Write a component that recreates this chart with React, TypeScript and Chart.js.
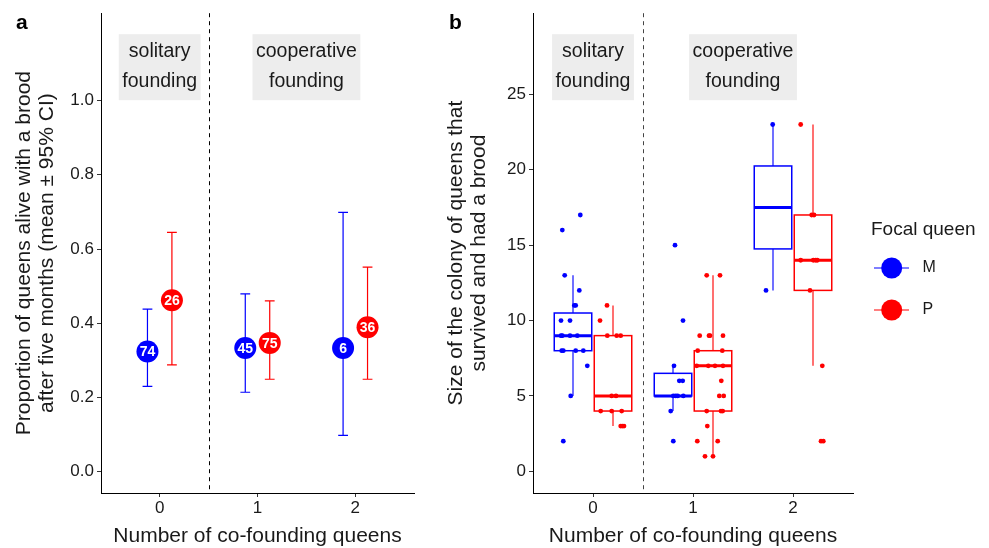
import React, { useEffect, useRef } from "react";
import { Chart, registerables } from "chart.js";
Chart.register(...registerables);

const FONT = "'Liberation Sans', Arial, Helvetica, sans-serif";
const BLUE = "#0000FF";
const RED = "#FF0000";
const TEXT = "#1a1a1a";

// ---- categories / labels ----
const groupValues = [0, 1, 2];
const xTickLabels = ["0", "1", "2"];
const queenLabels = ["M", "P"];
const legendTitle = "Focal queen";
const xTitle = "Number of co-founding queens";
const yTitleA = ["Proportion of queens alive with a brood", "after five months (mean \u00b1 95% CI)"];
const yTitleB = ["Size of the colony of queens that", "survived and had a brood"];
const annotationLines = [["solitary", "founding"], ["cooperative", "founding"]];
const annotationX = [0, 1.5];
const annotationYA = 1.09;
const annotationYB = 26.8;
const separatorX = 0.5;
const yTicksA = [0, 0.2, 0.4, 0.6, 0.8, 1.0];
const yTicksB = [0, 5, 10, 15, 20, 25];

// ---- panel a: proportion (mean, 95% CI, n) ----
const meanM = [0.324, 0.333, 0.333];
const lowM = [0.23, 0.214, 0.098];
const highM = [0.438, 0.479, 0.699];
const nM = [74, 45, 6];
const meanP = [0.462, 0.347, 0.389];
const lowP = [0.288, 0.249, 0.249];
const highP = [0.645, 0.46, 0.551];
const nP = [26, 75, 36];

// ---- panel b: box statistics ----
const medianM = [9, 5, 17.5];
const q1M = [8, 5, 14.75];
const q3M = [10.5, 6.5, 20.25];
const whiskLoM = [5, 4, 12];
const whiskHiM = [13, 7, 23];
const medianP = [5, 7, 14];
const q1P = [4, 4, 12];
const q3P = [9, 8, 17];
const whiskLoP = [3, 1, 7];
const whiskHiP = [11, 13, 23];

// ---- panel b: jittered observations ----
const sizeXM = [
  -0.307, -0.127, -0.283, -0.137, -0.187, -0.173, -0.32, -0.23, -0.32, -0.307, -0.23, -0.157, -0.313, -0.297, -0.173, -0.097, -0.057, -0.223, -0.297,
  0.82, 0.9, 0.81, 0.863, 0.897, 0.803, 0.827, 0.847, 0.903, 0.777, 0.803,
  1.797, 1.73,
];
const sizeYM = [
  16, 17, 13, 12, 11, 11, 10, 10, 9, 9, 9, 9, 8, 8, 8, 8, 7, 5, 2,
  15, 10, 7, 6, 6, 5, 5, 5, 5, 4, 2,
  23, 12,
];
const sizeXP = [
  0.14, 0.07, 0.143, 0.237, 0.277, 0.187, 0.23, 0.077, 0.187, 0.287, 0.277, 0.293, 0.31,
  1.137, 1.27, 1.067, 1.16, 1.17, 1.3, 1.047, 1.293, 1.037, 1.153, 1.22, 1.3, 1.283, 1.263, 1.307, 1.137, 1.28, 1.297, 1.143, 1.043, 1.247, 1.12, 1.2,
  2.077, 2.187, 2.21, 2.077, 2.203, 2.227, 2.243, 2.17, 2.293, 2.28, 2.303,
];
const sizeYP = [
  11, 10, 9, 9, 9, 5, 5, 4, 4, 4, 3, 3, 3,
  13, 13, 9, 9, 9, 9, 8, 8, 7, 7, 7, 7, 6, 5, 5, 4, 4, 4, 3, 2, 2, 1, 1,
  23, 17, 17, 14, 14, 14, 14, 12, 7, 2, 2,
];

// ---- layout constants (not data) ----
const dodgeA = 0.125;
const capHalfA = 0.05;
const dodgeB = 0.2;
const boxWidthB = 0.375;

function drawAnnotations(ctx: CanvasRenderingContext2D, x: any, y: any, yVal: number) {
  ctx.save();
  ctx.font = `19.5px ${FONT}`;
  const cy = y.getPixelForValue(yVal);
  annotationLines.forEach((lines, i) => {
    const cx = x.getPixelForValue(annotationX[i]);
    const w = Math.max(...lines.map((l) => ctx.measureText(l).width)) + 7;
    ctx.fillStyle = "#EDEDED";
    ctx.fillRect(cx - w / 2, cy - 33, w, 66);
    ctx.fillStyle = TEXT;
    ctx.textAlign = "center";
    ctx.textBaseline = "alphabetic";
    ctx.fillText(lines[0], cx, cy - 9.8);
    ctx.fillText(lines[1], cx, cy + 19.5);
  });
  ctx.restore();
}

function drawSeparator(ctx: CanvasRenderingContext2D, chart: any, color: string) {
  const { chartArea, scales } = chart;
  const sx = Math.round(scales.x.getPixelForValue(separatorX)) + 0.5;
  ctx.save();
  ctx.strokeStyle = color;
  ctx.lineWidth = 1;
  ctx.setLineDash([4, 4]);
  ctx.beginPath();
  ctx.moveTo(sx, chartArea.top);
  ctx.lineTo(sx, chartArea.bottom);
  ctx.stroke();
  ctx.restore();
}

function drawTitles(ctx: CanvasRenderingContext2D, chart: any, yLines: string[], yLineX: number[], tag: string, tagX: number) {
  const { chartArea } = chart;
  ctx.save();
  ctx.fillStyle = TEXT;
  ctx.font = `21px ${FONT}`;
  ctx.textAlign = "center";
  ctx.textBaseline = "alphabetic";
  ctx.fillText(xTitle, (chartArea.left + chartArea.right) / 2, 542);
  const cy = (chartArea.top + chartArea.bottom) / 2;
  yLines.forEach((line, i) => {
    ctx.save();
    ctx.translate(yLineX[i], cy);
    ctx.rotate(-Math.PI / 2);
    ctx.textBaseline = "middle";
    ctx.fillText(line, 0, 0);
    ctx.restore();
  });
  ctx.font = `bold 21px ${FONT}`;
  ctx.textAlign = "left";
  ctx.fillStyle = "#000";
  ctx.fillText(tag, tagX, 29);
  ctx.restore();
}

function scaleX(rightLabelsFn?: any) {
  return {
    type: "linear" as const,
    min: -0.6,
    max: 2.6,
    afterBuildTicks: (s: any) => {
      s.ticks = groupValues.map((v) => ({ value: v }));
    },
    afterFit: (s: any) => {
      s.height = 548 - 493;
    },
    ticks: {
      callback: (v: any) => {
        const i = groupValues.indexOf(Number(v));
        return i >= 0 ? xTickLabels[i] : "";
      },
      font: { family: FONT, size: 17 },
      color: TEXT,
      padding: 1,
      autoSkip: false,
      maxRotation: 0,
    },
    grid: { drawOnChartArea: false, drawTicks: true, tickLength: 4, color: "#333", lineWidth: 1 },
    border: { display: true, color: "#000", width: 1 },
  };
}

function scaleY(min: number, max: number, tickVals: number[], fmt: (v: number) => string, width: number) {
  return {
    type: "linear" as const,
    min,
    max,
    afterBuildTicks: (s: any) => {
      s.ticks = tickVals.map((v) => ({ value: v }));
    },
    afterFit: (s: any) => {
      s.width = width;
    },
    ticks: {
      callback: (v: any) => fmt(Number(v)),
      font: { family: FONT, size: 17 },
      color: TEXT,
      padding: 3,
      autoSkip: false,
    },
    grid: { drawOnChartArea: false, drawTicks: true, tickLength: 4, color: "#333", lineWidth: 1 },
    border: { display: true, color: "#000", width: 1 },
  };
}

const panelAPlugin = {
  id: "panelA",
  beforeDatasetsDraw(chart: any) {
    const { ctx, scales } = chart;
    const { x, y } = scales;
    drawSeparator(ctx, chart, "#000");
    drawAnnotations(ctx, x, y, annotationYA);
    const series = [
      { low: lowM, high: highM, color: BLUE, off: -dodgeA },
      { low: lowP, high: highP, color: RED, off: dodgeA },
    ];
    ctx.save();
    ctx.lineWidth = 1.2;
    series.forEach((s) => {
      ctx.strokeStyle = s.color;
      groupValues.forEach((g, i) => {
        const cx = x.getPixelForValue(g + s.off);
        const l = x.getPixelForValue(g + s.off - capHalfA);
        const r = x.getPixelForValue(g + s.off + capHalfA);
        const top = y.getPixelForValue(s.high[i]);
        const bot = y.getPixelForValue(s.low[i]);
        ctx.beginPath();
        ctx.moveTo(cx, top);
        ctx.lineTo(cx, bot);
        ctx.moveTo(l, top);
        ctx.lineTo(r, top);
        ctx.moveTo(l, bot);
        ctx.lineTo(r, bot);
        ctx.stroke();
      });
    });
    ctx.restore();
  },
  afterDatasetsDraw(chart: any) {
    const { ctx, scales } = chart;
    const { x, y } = scales;
    ctx.save();
    ctx.fillStyle = "#fff";
    ctx.font = `bold 14px ${FONT}`;
    ctx.textAlign = "center";
    ctx.textBaseline = "middle";
    [
      { mean: meanM, n: nM, off: -dodgeA },
      { mean: meanP, n: nP, off: dodgeA },
    ].forEach((s) => {
      groupValues.forEach((g, i) => {
        ctx.fillText(String(s.n[i]), x.getPixelForValue(g + s.off), y.getPixelForValue(s.mean[i]) + 1);
      });
    });
    ctx.restore();
  },
  afterDraw(chart: any) {
    drawTitles(chart.ctx, chart, yTitleA, [24, 47.5], "a", 16);
  },
};

const panelBPlugin = {
  id: "panelB",
  beforeDatasetsDraw(chart: any) {
    const { ctx, scales } = chart;
    const { x, y } = scales;
    drawSeparator(ctx, chart, "#444");
    drawAnnotations(ctx, x, y, annotationYB);
    const series = [
      { med: medianM, q1: q1M, q3: q3M, lo: whiskLoM, hi: whiskHiM, color: BLUE, off: -dodgeB },
      { med: medianP, q1: q1P, q3: q3P, lo: whiskLoP, hi: whiskHiP, color: RED, off: dodgeB },
    ];
    ctx.save();
    series.forEach((s) => {
      groupValues.forEach((g, i) => {
        const cx = x.getPixelForValue(g + s.off);
        const l = x.getPixelForValue(g + s.off - boxWidthB / 2);
        const r = x.getPixelForValue(g + s.off + boxWidthB / 2);
        const pq1 = y.getPixelForValue(s.q1[i]);
        const pq3 = y.getPixelForValue(s.q3[i]);
        const pmed = y.getPixelForValue(s.med[i]);
        const plo = y.getPixelForValue(s.lo[i]);
        const phi = y.getPixelForValue(s.hi[i]);
        ctx.strokeStyle = s.color;
        ctx.globalAlpha = 0.75;
        ctx.lineWidth = 1.5;
        ctx.beginPath();
        ctx.moveTo(cx, pq3);
        ctx.lineTo(cx, phi);
        ctx.moveTo(cx, pq1);
        ctx.lineTo(cx, plo);
        ctx.stroke();
        ctx.globalAlpha = 1;
        ctx.fillStyle = "#fff";
        ctx.fillRect(l, pq3, r - l, pq1 - pq3);
        ctx.lineWidth = 1.5;
        ctx.strokeRect(l, pq3, r - l, pq1 - pq3);
        ctx.lineWidth = 3;
        ctx.beginPath();
        ctx.moveTo(l, pmed);
        ctx.lineTo(r, pmed);
        ctx.stroke();
      });
    });
    ctx.restore();
  },
  afterDraw(chart: any) {
    const { ctx } = chart;
    drawTitles(ctx, chart, yTitleB, [16, 39.5], "b", 9);
    ctx.save();
    ctx.fillStyle = TEXT;
    ctx.font = `19px ${FONT}`;
    ctx.textAlign = "left";
    ctx.textBaseline = "alphabetic";
    ctx.fillText(legendTitle, 431, 235);
    const colors = [BLUE, RED];
    queenLabels.forEach((lab, i) => {
      const cy = 268 + i * 42;
      ctx.strokeStyle = colors[i];
      ctx.lineWidth = 1.2;
      ctx.beginPath();
      ctx.moveTo(434, cy);
      ctx.lineTo(469, cy);
      ctx.stroke();
      ctx.fillStyle = colors[i];
      ctx.beginPath();
      ctx.arc(451.7, cy, 10.5, 0, Math.PI * 2);
      ctx.fill();
      ctx.fillStyle = TEXT;
      ctx.font = `16px ${FONT}`;
      ctx.textBaseline = "middle";
      ctx.fillText(lab, 482.5, cy);
    });
    ctx.restore();
  },
};

export default function App() {
  const refA = useRef<HTMLCanvasElement>(null);
  const refB = useRef<HTMLCanvasElement>(null);

  useEffect(() => {
    const chartA = new Chart(refA.current as HTMLCanvasElement, {
      type: "scatter",
      data: {
        datasets: [
          {
            label: queenLabels[0],
            data: groupValues.map((g, i) => ({ x: g - dodgeA, y: meanM[i] })),
            pointRadius: 11,
            pointBackgroundColor: BLUE,
            pointBorderWidth: 0,
          },
          {
            label: queenLabels[1],
            data: groupValues.map((g, i) => ({ x: g + dodgeA, y: meanP[i] })),
            pointRadius: 11,
            pointBackgroundColor: RED,
            pointBorderWidth: 0,
          },
        ],
      },
      options: {
        animation: false,
        responsive: false,
        events: [],
        layout: { padding: { left: 0, top: 12, right: 26, bottom: 0 } },
        plugins: { legend: { display: false }, tooltip: { enabled: false } },
        scales: {
          x: scaleX() as any,
          y: scaleY(-0.0575, 1.2355, yTicksA, (v) => v.toFixed(1), 101) as any,
        },
      },
      plugins: [panelAPlugin],
    });

    const chartB = new Chart(refB.current as HTMLCanvasElement, {
      type: "scatter",
      data: {
        datasets: [
          {
            label: queenLabels[0],
            data: sizeXM.map((xv, i) => ({ x: xv, y: sizeYM[i] })),
            pointRadius: 2.4,
            pointBackgroundColor: BLUE,
            pointBorderWidth: 0,
          },
          {
            label: queenLabels[1],
            data: sizeXP.map((xv, i) => ({ x: xv, y: sizeYP[i] })),
            pointRadius: 2.4,
            pointBackgroundColor: RED,
            pointBorderWidth: 0,
          },
        ],
      },
      options: {
        animation: false,
        responsive: false,
        events: [],
        layout: { padding: { left: 0, top: 12, right: 136, bottom: 0 } },
        plugins: { legend: { display: false }, tooltip: { enabled: false } },
        scales: {
          x: scaleX() as any,
          y: scaleY(-1.435, 30.38, yTicksB, (v) => String(v), 93) as any,
        },
      },
      plugins: [panelBPlugin],
    });

    return () => {
      chartA.destroy();
      chartB.destroy();
    };
  }, []);

  return (
    <div style={{ position: "absolute", left: 0, top: 0, width: 989, height: 548, background: "#fff" }}>
      <canvas ref={refA} width={440} height={548} style={{ position: "absolute", left: 0, top: 0 }} />
      <canvas ref={refB} width={549} height={548} style={{ position: "absolute", left: 440, top: 0 }} />
    </div>
  );
}
